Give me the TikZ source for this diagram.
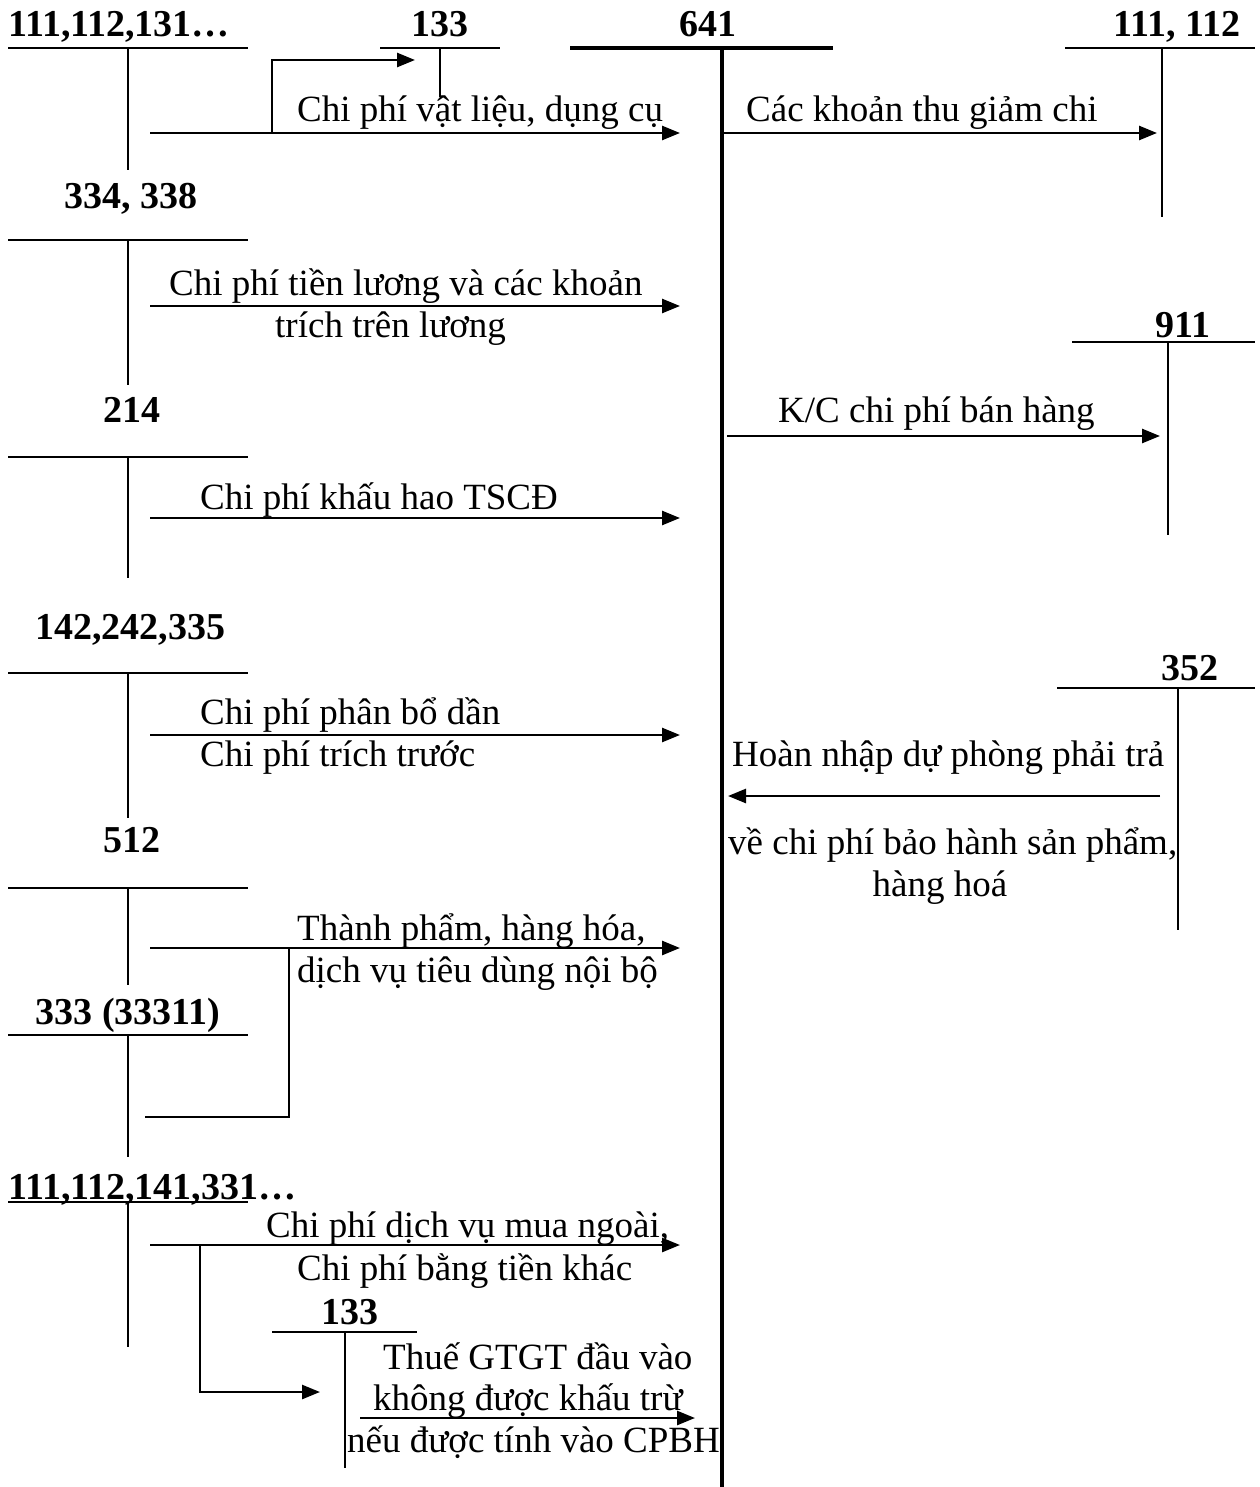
\documentclass[tikz,border=0pt]{standalone}
\usepackage{fontspec}
\setmainfont{Liberation Serif}
\usetikzlibrary{arrows.meta}
\begin{document}
\begin{tikzpicture}[x=1pt,y=-1pt,
  acc/.style={line width=1.6pt},
  main/.style={line width=3.6pt},
  flow/.style={line width=2.6pt,-{Triangle[length=18pt,width=14pt]}},
  plain/.style={line width=2.2pt},
  lbl/.style={font=\fontsize{38}{42}\selectfont\bfseries,inner sep=0pt,anchor=base},
  txt/.style={font=\fontsize{37}{42}\selectfont,inner sep=0pt,anchor=base west},
  txtc/.style={font=\fontsize{37}{42}\selectfont,inner sep=0pt,anchor=base}]
\useasboundingbox (0,0) rectangle (1259,1487);
% --- 641 main account
\coordinate (m1) at (570,48); \coordinate (m2) at (833,48);
\coordinate (mt) at (722,48); \coordinate (mb) at (722,1487);
\draw[main] (m1) -- (m2); \draw[main] (mt) -- (mb);
\node[lbl] (l641) at (708,37) {641};
% --- 111,112,131...
\node[lbl,anchor=base west] (la) at (8,37) {111,112,131…};
\coordinate (a1) at (8,48); \coordinate (a2) at (248,48);
\coordinate (at) at (128,48); \coordinate (ab) at (128,170);
\draw[acc] (a1) -- (a2); \draw[acc] (at) -- (ab);
% --- 133 top
\node[lbl] (lb) at (440,37) {133};
\coordinate (b1) at (380,48); \coordinate (b2) at (500,48);
\coordinate (bt) at (440,48); \coordinate (bb) at (440,97);
\draw[acc] (b1) -- (b2); \draw[acc] (bt) -- (bb);
\coordinate (fa0) at (150,133); \coordinate (fa1) at (680,133);
\coordinate (fb0) at (272,133); \coordinate (fb1) at (272,60); \coordinate (fb2) at (415,60);
\draw[flow] (fa0) -- (fa1);
\draw[flow] (fb0) -- (fb1) -- (fb2);
\node[txt] (ta) at (297,122) {Chi phí vật liệu, dụng cụ};
% --- 111,112 right
\node[lbl] (lc) at (1177,37) {111, 112};
\coordinate (c1) at (1065,48); \coordinate (c2) at (1255,48);
\coordinate (ct) at (1162,48); \coordinate (cb) at (1162,217);
\draw[acc] (c1) -- (c2); \draw[acc] (ct) -- (cb);
\coordinate (fc0) at (722,133); \coordinate (fc1) at (1157,133);
\draw[flow] (fc0) -- (fc1);
\node[txt] (tc) at (746,122) {Các khoản thu giảm chi};
% --- 334, 338
\node[lbl] (ld) at (131,209) {334, 338};
\coordinate (d1) at (8,240); \coordinate (d2) at (248,240);
\coordinate (dt) at (128,240); \coordinate (db) at (128,385);
\draw[acc] (d1) -- (d2); \draw[acc] (dt) -- (db);
\coordinate (fd0) at (150,306); \coordinate (fd1) at (680,306);
\draw[flow] (fd0) -- (fd1);
\node[txt] (td1) at (169,295) {Chi phí tiền lương và các khoản};
\node[txt] (td2) at (275,337) {trích trên lương};
% --- 911
\node[lbl] (le) at (1183,337) {911};
\coordinate (e1) at (1072,342); \coordinate (e2) at (1255,342);
\coordinate (et) at (1168,342); \coordinate (eb) at (1168,535);
\draw[acc] (e1) -- (e2); \draw[acc] (et) -- (eb);
\coordinate (fe0) at (727,436); \coordinate (fe1) at (1160,436);
\draw[flow] (fe0) -- (fe1);
\node[txt] (te) at (778,422) {K/C chi phí bán hàng};
% --- 214
\node[lbl] (lf) at (132,422) {214};
\coordinate (f1) at (8,457); \coordinate (f2) at (248,457);
\coordinate (ft) at (128,457); \coordinate (fb) at (128,578);
\draw[acc] (f1) -- (f2); \draw[acc] (ft) -- (fb);
\coordinate (ff0) at (150,518); \coordinate (ff1) at (680,518);
\draw[flow] (ff0) -- (ff1);
\node[txt] (tf) at (200,509) {Chi phí khấu hao TSCĐ};
% --- 142,242,335
\node[lbl] (lg) at (130,639) {142,242,335};
\coordinate (g1) at (8,673); \coordinate (g2) at (248,673);
\coordinate (gt) at (128,673); \coordinate (gb) at (128,818);
\draw[acc] (g1) -- (g2); \draw[acc] (gt) -- (gb);
\coordinate (fg0) at (150,735); \coordinate (fg1) at (680,735);
\draw[flow] (fg0) -- (fg1);
\node[txt] (tg1) at (200,724) {Chi phí phân bổ dần};
\node[txt] (tg2) at (200,766) {Chi phí trích trước};
% --- 352
\node[lbl] (lh) at (1190,680) {352};
\coordinate (h1) at (1057,688); \coordinate (h2) at (1255,688);
\coordinate (ht) at (1178,688); \coordinate (hb) at (1178,930);
\draw[acc] (h1) -- (h2); \draw[acc] (ht) -- (hb);
\coordinate (fh0) at (1160,796); \coordinate (fh1) at (728,796);
\draw[flow] (fh0) -- (fh1);
\node[txt] (th1) at (732,766) {Hoàn nhập dự phòng phải trả};
\node[txt] (th2) at (728,854) {về chi phí bảo hành sản phẩm,};
\node[txtc] (th3) at (940,896) {hàng hoá};
% --- 512
\node[lbl] (li) at (132,852) {512};
\coordinate (i1) at (8,888); \coordinate (i2) at (248,888);
\coordinate (it) at (128,888); \coordinate (ib) at (128,985);
\draw[acc] (i1) -- (i2); \draw[acc] (it) -- (ib);
\coordinate (fi0) at (150,948); \coordinate (fi1) at (680,948);
\draw[flow] (fi0) -- (fi1);
\node[txt] (ti1) at (297,940) {Thành phẩm, hàng hóa,};
\node[txt] (ti2) at (297,982) {dịch vụ tiêu dùng nội bộ};
% --- 333 (33311)
\node[lbl] (lj) at (128,1024) {333 (33311)};
\coordinate (j1) at (8,1035); \coordinate (j2) at (248,1035);
\coordinate (jt) at (128,1035); \coordinate (jb) at (128,1157);
\draw[acc] (j1) -- (j2); \draw[acc] (jt) -- (jb);
\coordinate (fj0) at (289,948); \coordinate (fj1) at (289,1117); \coordinate (fj2) at (145,1117);
\draw[plain] (fj0) -- (fj1) -- (fj2);
% --- 111,112,141,331...
\node[lbl,anchor=base west] (lk) at (8,1199) {111,112,141,331…};
\coordinate (k1) at (8,1202); \coordinate (k2) at (248,1202);
\coordinate (kt) at (128,1202); \coordinate (kb) at (128,1347);
\draw[acc] (k1) -- (k2); \draw[acc] (kt) -- (kb);
\coordinate (fk0) at (150,1245); \coordinate (fk1) at (680,1245);
\draw[flow] (fk0) -- (fk1);
\node[txt] (tk1) at (266,1237) {Chi phí dịch vụ mua ngoài,};
\node[txt] (tk2) at (297,1280) {Chi phí bằng tiền khác};
\coordinate (fl0) at (200,1245); \coordinate (fl1) at (200,1392); \coordinate (fl2) at (320,1392);
\draw[flow] (fl0) -- (fl1) -- (fl2);
% --- 133 bottom
\node[lbl] (ll) at (350,1324) {133};
\coordinate (n1) at (272,1332); \coordinate (n2) at (417,1332);
\coordinate (nt) at (345,1332); \coordinate (nb) at (345,1468);
\draw[acc] (n1) -- (n2); \draw[acc] (nt) -- (nb);
\coordinate (fn0) at (360,1418); \coordinate (fn1) at (695,1418);
\draw[flow] (fn0) -- (fn1);
\node[txt] (tn1) at (383,1369) {Thuế GTGT đầu vào};
\node[txt] (tn2) at (373,1410) {không được khấu trừ};
\node[txt] (tn3) at (347,1452) {nếu được tính vào CPBH};
\end{tikzpicture}
\end{document}
